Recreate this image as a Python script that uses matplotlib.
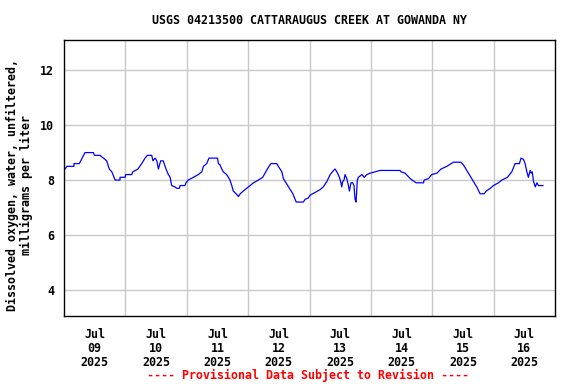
import matplotlib
matplotlib.use("Agg")
import matplotlib.pyplot as plt
from matplotlib.ticker import FixedLocator, NullFormatter, FixedFormatter

title = "USGS 04213500 CATTARAUGUS CREEK AT GOWANDA NY"
ylabel = "Dissolved oxygen, water, unfiltered,\nmilligrams per liter"
footer = "---- Provisional Data Subject to Revision ----"
day_labels = ["Jul\n09\n2025", "Jul\n10\n2025", "Jul\n11\n2025", "Jul\n12\n2025",
              "Jul\n13\n2025", "Jul\n14\n2025", "Jul\n15\n2025", "Jul\n16\n2025"]
y_ticks = [4, 6, 8, 10, 12]

# hours since 2025-07-09 00:00
hours = [0.4, 1.1, 3.9, 3.9, 6.0, 8.2, 11.5, 11.9, 14.1, 14.7, 15.4, 16.7, 17.7, 18.7,
         20.0, 21.9, 21.9, 23.9, 24.1, 26.5, 26.9, 28.9, 30.4, 31.7, 32.6, 34.3, 34.8,
         35.6, 36.3, 36.9, 37.8, 38.8, 39.9, 40.8, 41.5, 42.1, 43.4, 44.1, 45.1, 45.4,
         47.3, 47.7, 48.6, 50.6, 52.5, 53.9, 54.5, 55.8, 56.7, 60.0, 60.4, 61.0, 61.7,
         62.3, 63.6, 64.9, 65.6, 66.2, 67.3, 68.2, 68.9, 70.1, 72.1, 74.1, 76.0, 77.7,
         78.6, 79.5, 80.9, 83.2, 83.8, 85.2, 85.8, 86.8, 88.1, 89.5, 90.8, 93.6, 94.3,
         95.6, 96.2, 98.2, 100.1, 101.4, 102.8, 104.1, 105.4, 106.0, 106.7, 107.7, 108.3,
         108.6, 109.0, 109.5, 109.9, 110.6, 111.2, 111.6, 112.2, 112.9, 113.4, 113.8,
         114.2, 114.7, 115.1, 116.5, 117.4, 118.4, 119.7, 123.6, 131.4, 131.8, 133.4,
         135.4, 137.7, 140.6, 140.8, 142.5, 143.8, 145.8, 147.4, 149.7, 152.3, 155.2,
         156.2, 157.5, 158.8, 160.1, 161.4, 162.7, 164.3, 165.1, 166.7, 167.9, 169.9,
         171.2, 173.4, 175.1, 176.4, 178.1, 178.7, 179.7, 180.3, 181.0, 181.6, 182.3,
         182.7, 183.1, 183.6, 184.3, 184.9, 185.5, 187.3]
oxygen = [8.4, 8.5, 8.5, 8.6, 8.6, 9.0, 9.0, 8.9, 8.9, 8.85, 8.8, 8.7, 8.4, 8.3,
          8.0, 8.0, 8.1, 8.1, 8.2, 8.2, 8.3, 8.4, 8.6, 8.8, 8.9, 8.9, 8.7,
          8.8, 8.7, 8.4, 8.7, 8.7, 8.4, 8.2, 8.1, 7.8, 7.75, 7.7, 7.7, 7.8,
          7.8, 7.9, 8.0, 8.1, 8.2, 8.3, 8.5, 8.6, 8.8, 8.8, 8.6, 8.55, 8.4,
          8.3, 8.2, 8.0, 7.8, 7.6, 7.5, 7.4, 7.5, 7.6, 7.75, 7.9, 8.0, 8.1,
          8.25, 8.4, 8.6, 8.6, 8.5, 8.3, 8.05, 7.9, 7.7, 7.5, 7.2, 7.2, 7.3,
          7.35, 7.45, 7.55, 7.65, 7.75, 7.95, 8.2, 8.35, 8.4, 8.3, 8.1, 7.9,
          7.75, 7.95, 8.0, 8.2, 8.05, 7.8, 7.6, 7.9, 7.9, 7.8, 7.3,
          7.2, 8.0, 8.1, 8.2, 8.1, 8.2, 8.25, 8.35, 8.35, 8.3, 8.25,
          8.05, 7.9, 7.9, 8.0, 8.05, 8.2, 8.25, 8.4, 8.5, 8.65, 8.65,
          8.55, 8.35, 8.15, 7.95, 7.75, 7.5, 7.5, 7.6, 7.7, 7.8, 7.9,
          8.0, 8.1, 8.3, 8.6, 8.6, 8.8, 8.75, 8.6, 8.3, 8.1, 8.35,
          8.25, 8.3, 7.95, 7.75, 7.9, 7.8, 7.8]

font = {"family": "DejaVu Sans Mono", "weight": "bold", "size": 8.4}

fig = plt.figure(figsize=(5.76, 3.84), dpi=100)
ax = fig.add_axes([64 / 576, 68 / 384, 491 / 576, 276 / 384])
ax.plot(hours, oxygen, color="#0000ff", linewidth=0.9)

ax.set_xlim(0, 192)
ax.set_ylim(3.05, 13.1)

ax.xaxis.set_major_locator(FixedLocator([24 * i for i in range(1, 8)]))
ax.xaxis.set_major_formatter(NullFormatter())
ax.xaxis.set_minor_locator(FixedLocator([12 + 24 * i for i in range(8)]))
ax.xaxis.set_minor_formatter(FixedFormatter(day_labels))
ax.set_yticks(y_ticks)
ax.set_yticklabels([str(v) for v in y_ticks])

ax.grid(True, which="major", color="#c8c8c8", linewidth=1.0)
ax.set_axisbelow(True)
ax.tick_params(which="both", length=0)
ax.tick_params(axis="x", which="minor", pad=9)
ax.tick_params(axis="y", pad=7)
for lab in ax.get_xticklabels(minor=True):
    lab.set_fontproperties(matplotlib.font_manager.FontProperties(**font))
    lab.set_linespacing(1.05)
for lab in ax.get_yticklabels():
    lab.set_fontproperties(matplotlib.font_manager.FontProperties(**font))
for sp in ax.spines.values():
    sp.set_color("black")
    sp.set_linewidth(1.0)

fig.text(309 / 576, 1 - 20 / 384, title, ha="center", va="center", **font)
fig.text(19.5 / 576, 1 - 185 / 384, ylabel, ha="center", va="center", rotation=90,
         linespacing=1.05, **font)
fig.text(308 / 576, 1 - 375 / 384, footer, ha="center", va="center",
         color="red", **font)

fig.savefig("out.png", dpi=100)
